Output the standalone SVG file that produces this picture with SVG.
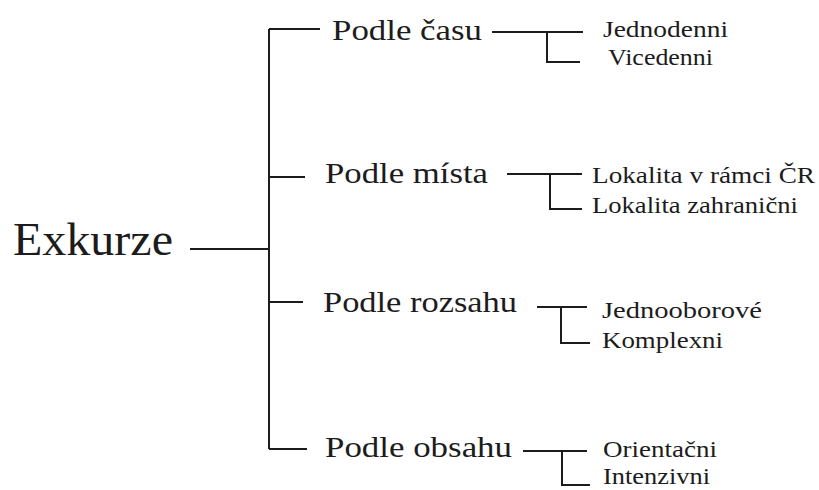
<svg xmlns="http://www.w3.org/2000/svg" width="819" height="490" viewBox="0 0 819 490">
<style>
text{font-family:'Liberation Serif','Times New Roman',Times,serif;fill:#1c1c1c}
.root{font-size:46px}
.l1{font-size:30px}
.l2{font-size:24px}
.c{stroke:#1c1c1c;stroke-width:2;fill:none}
</style>
<rect width="819" height="490" fill="#ffffff"/>
<g id="connectors">
<path class="c" d="M190 249H269M269 29V449M269 29H320M269 177H305M269 302H303M269 449H307"/>
<path class="c" d="M492 32H583M547 32V62H580"/>
<path class="c" d="M507 174H582M550 174V209H582"/>
<path class="c" d="M537 307H587M561 307V343H590"/>
<path class="c" d="M523 451H587M562 451V485H590"/>
</g>
<g id="exkurze"><text class="root" x="13" y="255" textLength="160" lengthAdjust="spacingAndGlyphs">Exkurze</text></g>
<g id="podle-casu"><text class="l1" x="332" y="40" textLength="150" lengthAdjust="spacingAndGlyphs">Podle času</text></g>
<g id="podle-mista"><text class="l1" x="325" y="183" textLength="163" lengthAdjust="spacingAndGlyphs">Podle místa</text></g>
<g id="podle-rozsahu"><text class="l1" x="323" y="312" textLength="194" lengthAdjust="spacingAndGlyphs">Podle rozsahu</text></g>
<g id="podle-obsahu"><text class="l1" x="325" y="457" textLength="187" lengthAdjust="spacingAndGlyphs">Podle obsahu</text></g>
<g id="jednodenni"><text class="l2" x="603" y="37" textLength="125" lengthAdjust="spacingAndGlyphs">Jednodenni</text></g>
<g id="vicedenni"><text class="l2" x="608" y="65" textLength="105" lengthAdjust="spacingAndGlyphs">Vicedenni</text></g>
<g id="lokalita-cr"><text class="l2" x="592" y="183" textLength="223" lengthAdjust="spacingAndGlyphs">Lokalita v rámci ČR</text></g>
<g id="lokalita-zahranicni"><text class="l2" x="592" y="213" textLength="206" lengthAdjust="spacingAndGlyphs">Lokalita zahranični</text></g>
<g id="jednooborove"><text class="l2" x="602" y="318" textLength="160" lengthAdjust="spacingAndGlyphs">Jednooborové</text></g>
<g id="komplexni"><text class="l2" x="602" y="348" textLength="121" lengthAdjust="spacingAndGlyphs">Komplexni</text></g>
<g id="orientacni"><text class="l2" x="603" y="457" textLength="114" lengthAdjust="spacingAndGlyphs">Orientačni</text></g>
<g id="intenzivni"><text class="l2" x="603" y="484" textLength="107" lengthAdjust="spacingAndGlyphs">Intenzivni</text></g>
</svg>
